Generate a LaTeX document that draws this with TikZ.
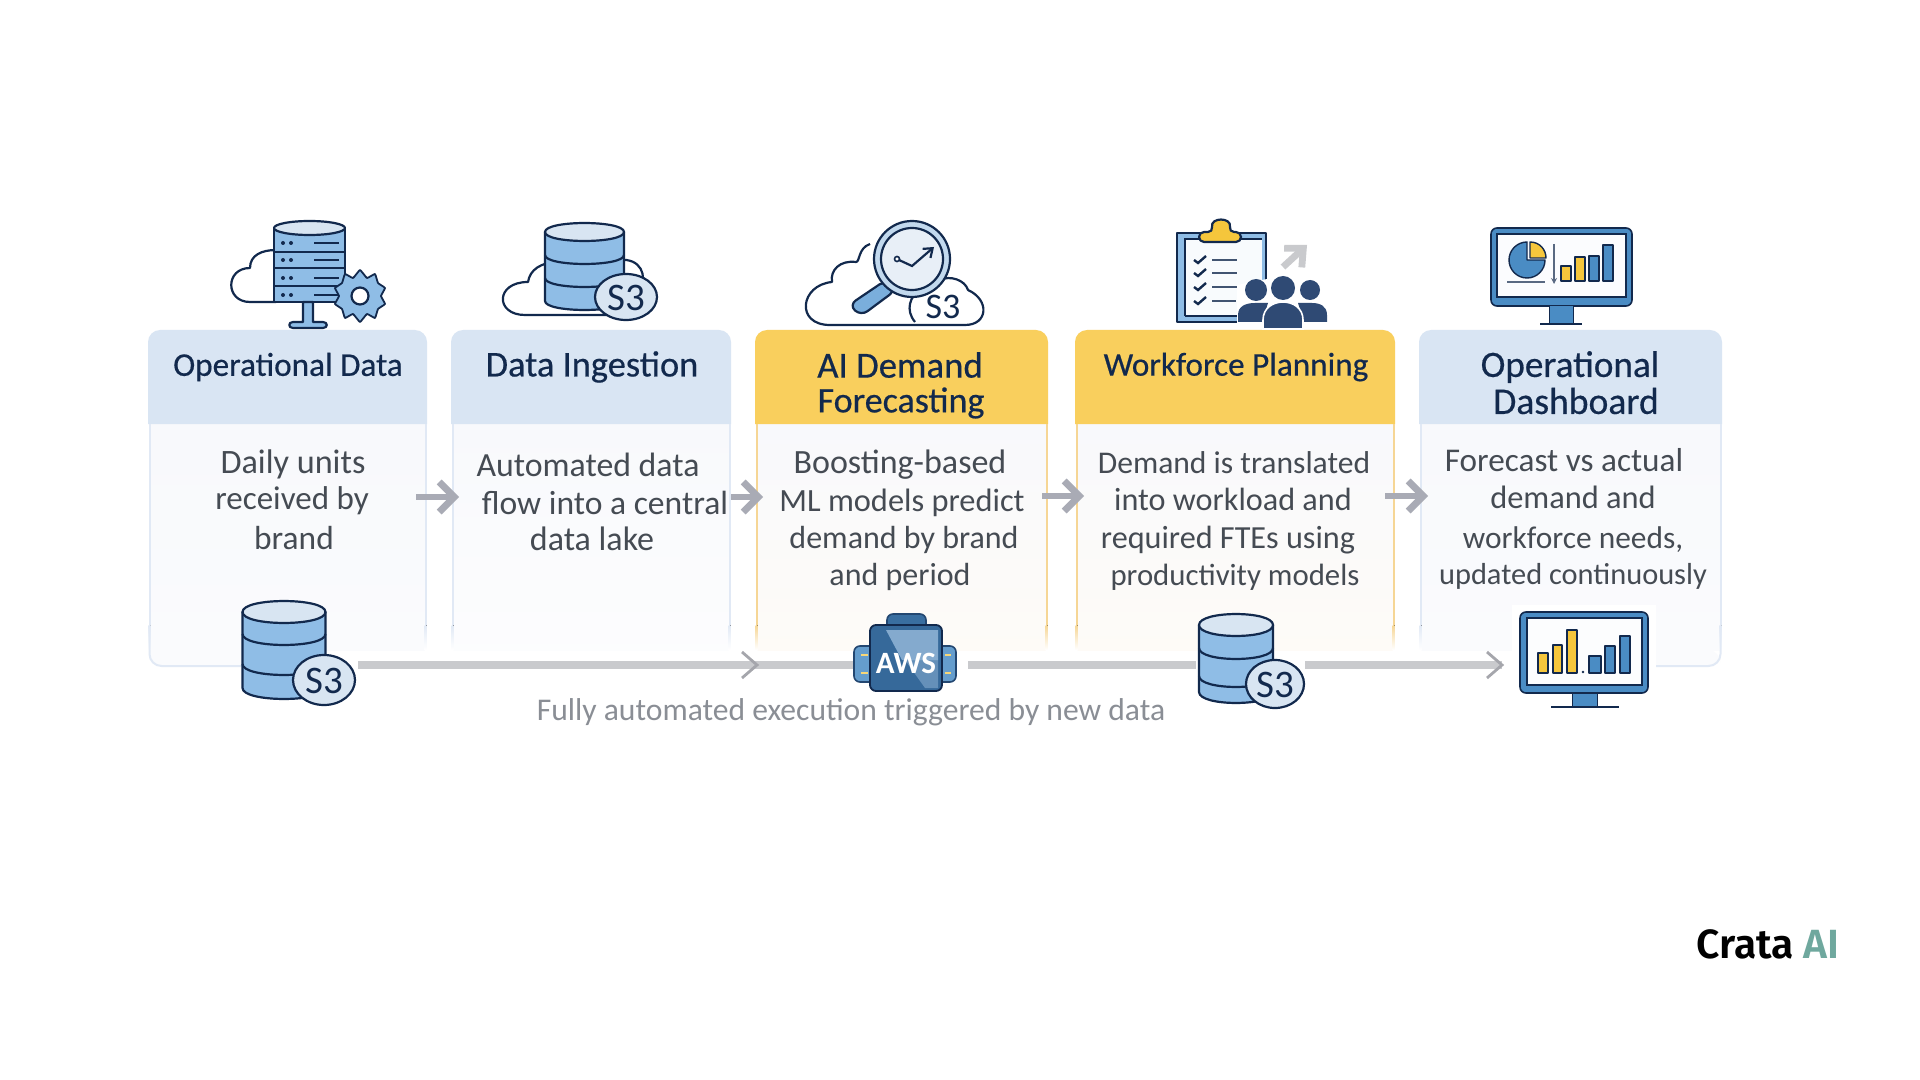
\documentclass[tikz,border=0pt]{standalone}
\usepackage{fontspec}
\usetikzlibrary{arrows.meta,shapes.geometric}
\setmainfont{Carlito}
\newfontfamily\hfont[FakeBold=0.45]{Carlito}
\newfontfamily\crfont{Fira Sans}[UprightFont=* SemiBold]
\definecolor{navy}{HTML}{12294D}
\definecolor{hblue}{HTML}{D9E5F3}
\definecolor{hyel}{HTML}{F9CF5D}
\definecolor{icb}{HTML}{8FBDE6}
\definecolor{icm}{HTML}{4A8CC4}
\definecolor{icl}{HTML}{D8E5F2}
\definecolor{bod}{HTML}{F8F9FC}
\definecolor{bline}{HTML}{E1E9F5}
\definecolor{oline}{HTML}{F6D695}
\definecolor{ora}{HTML}{FDF8F2}
\definecolor{arr}{HTML}{A9ABB5}
\definecolor{lin}{HTML}{C9CACD}
\definecolor{chv}{HTML}{A5A6AC}
\definecolor{txt}{HTML}{454B53}
\definecolor{capc}{HTML}{8A8E95}
\definecolor{yel}{HTML}{F5C63C}
\definecolor{dkp}{HTML}{2F4A74}
\definecolor{crt}{HTML}{6FA89E}
\tikzset{
 ic/.style={draw=navy,line width=1.1pt,line join=round},
 headt/.style={inner sep=0,text=navy,font=\hfont\fontsize{#1}{18}\selectfont},
 bodyt/.style={inner sep=0,text=txt,font=\fontsize{#1}{18}\selectfont},
 flow/.style={draw=arr,line width=3.4pt,-{Straight Barb[length=7.5pt,width=15pt]}},
 base/.style={draw=lin,line width=4pt},
 chev/.style={draw=chv,line width=1.4pt},
 anchorbox/.style={inner sep=0,outer sep=0,minimum height=10pt},
 stxt/.style={inner sep=0,text=navy,font=\fontsize{#1}{18}\selectfont},
}
\newcommand\dbcyl[7]{% cx rx topcy bot ry sep1 sep2
 \draw[ic,fill=icb] (#1-#2,#3) -- (#1-#2,#4) .. controls (#1-#2,#4+1.33*#5) and (#1+#2,#4+1.33*#5) .. (#1+#2,#4) -- (#1+#2,#3) -- cycle;
 \draw[ic] (#1-#2,#6) .. controls (#1-#2,#6+1.33*#5) and (#1+#2,#6+1.33*#5) .. (#1+#2,#6);
 \draw[ic] (#1-#2,#7) .. controls (#1-#2,#7+1.33*#5) and (#1+#2,#7+1.33*#5) .. (#1+#2,#7);
 \draw[ic,fill=icl] (#1-#2,#3) .. controls (#1-#2,#3+1.33*#5) and (#1+#2,#3+1.33*#5) .. (#1+#2,#3) .. controls (#1+#2,#3-1.33*#5) and (#1-#2,#3-1.33*#5) .. (#1-#2,#3) -- cycle;
}
\newcommand\card[7]{% L R bot head body-top body-bottom line
 \fill[top color=#5,bottom color=#6] (#1+2,420) rectangle (#2-2,#3);
 \fill[#4,rounded corners=6pt] (#1,424) -- (#1,330) -- (#2,330) -- (#2,424);
 \fill[#4] (#1,400) rectangle (#2,424);
 \foreach \xx in {#1+.5,#2-2.5} {
   \fill[#7] (\xx,424) rectangle (\xx+2,625);
   \fill[top color=#7,bottom color=white] (\xx,625) rectangle (\xx+2,#3);
 }
}
\begin{document}
\begin{tikzpicture}[x=.5pt,y=-.5pt]
\useasboundingbox (0,0) rectangle (1920,1080);
\fill[white] (0,0) rectangle (1920,1080);
% cards
\card{148}{427}{650}{hblue}{bod}{bod!70!white}{bline}
\card{451}{731}{650}{hblue}{bod}{bod!40!white}{bline}
\card{755}{1048}{650}{hyel}{bod}{ora!60!white}{oline}
\card{1075}{1395}{650}{hyel}{bod}{ora!60!white}{oline}
\card{1419}{1722}{650}{hblue}{bod}{bod!70!white}{bline}
\fill[bod!70!white,rounded corners=6pt] (150,650) -- (150,666) -- (300,666) -- (300,650);
\draw[bline,line width=1pt,rounded corners=6pt] (149.5,625) -- (149.5,666) -- (300,666);
\fill[bod!70!white,rounded corners=6pt] (1560,650) -- (1720,650) -- (1720,666) -- (1560,666);
\draw[bline,line width=1pt,rounded corners=6pt] (1720.5,625) -- (1720.5,666) -- (1640,666);
% headers
\node[headt=16.6] (h1) at (288,367) {Operational Data};
\node[headt=18.2] (h2) at (592,367) {Data Ingestion};
\node[headt=18.4] (h3a) at (900,365) {AI Demand};
\node[headt=18] (h3b) at (901,403) {Forecasting};
\node[headt=16.6] (h4) at (1236,367) {Workforce Planning};
\node[headt=18.6] (h5a) at (1570,367) {Operational};
\node[headt=18.8] (h5b) at (1576,401) {Dashboard};
% body
\node[bodyt=17.1] (b1a) at (293,464) {Daily units};
\node[bodyt=16.5] (b1b) at (292,501) {received by};
\node[bodyt=16.7] (b1c) at (294,538) {brand};
\node[bodyt=16.9] (b2a) at (588,465) {Automated data};
\node[bodyt=16.8] (b2b) at (605,503) {flow into a central};
\node[bodyt=17] (b2c) at (592,539) {data lake};
\node[bodyt=17] (b3a) at (900,465) {Boosting-based};
\node[bodyt=16.2] (b3b) at (902,503) {ML models predict};
\node[bodyt=16] (b3c) at (904,540) {demand by brand};
\node[bodyt=16] (b3d) at (900,577) {and period};
\node[bodyt=15.8] (b4a) at (1234,463) {Demand is translated};
\node[bodyt=16.1] (b4b) at (1233,499) {into workload and};
\node[bodyt=16.1] (b4c) at (1228,540) {required FTEs using};
\node[bodyt=15.4] (b4d) at (1235,577) {productivity models};
\node[bodyt=16.6] (b5a) at (1564,460) {Forecast vs actual};
\node[bodyt=16.2] (b5b) at (1573,497) {demand and};
\node[bodyt=15.7] (b5c) at (1573,540) {workforce needs,};
\node[bodyt=15.2] (b5d) at (1573,576) {updated continuously};
% upper arrows
\coordinate (a1s) at (416,497); \coordinate (a1e) at (459,497);
\coordinate (a2s) at (731,497); \coordinate (a2e) at (763,497);
\coordinate (a3s) at (1042,496); \coordinate (a3e) at (1084,496);
\coordinate (a4s) at (1385,496); \coordinate (a4e) at (1428,496);
\draw[flow] (a1s) -- (a1e);
\draw[flow] (a2s) -- (a2e);
\draw[flow] (a3s) -- (a3e);
\draw[flow] (a4s) -- (a4e);
% baseline
\node[anchorbox,minimum width=58pt] (s3a) at (300,665) {};
\node[anchorbox,minimum width=57.5pt] (aws) at (910.5,665) {};
\node[anchorbox,minimum width=54.5pt] (s3b) at (1250.5,665) {};
\node[anchorbox,minimum width=79pt] (mon) at (1581,665) {};
\coordinate (ch1) at (757,665); \coordinate (ch2) at (1502,665);
\draw[base] (s3a) -- (aws);
\draw[base] (aws) -- (s3b);
\draw[base] (s3b) -- (mon);
\draw[chev] (ch1) ++(-15,-13) -- (ch1) -- ++(-15,13);
\draw[chev] (ch2) ++(-15,-13) -- (ch2) -- ++(-15,13);
\node[inner sep=0,text=capc,font=\fontsize{15.8}{18}\selectfont] (cap) at (851,712) {Fully automated execution triggered by new data};
% icon 1
\draw[ic,fill=white] (276,302) -- (250,302) .. controls (225,302) and (225,268) .. (250,268) .. controls (250,255) and (262,250) .. (276,250);
\draw[ic,fill=icb] (274,228) -- (274,302) -- (345,302) -- (345,228) -- cycle;
\draw[ic,fill=icl] (309.5,228) ellipse [x radius=35.5,y radius=7];
\foreach \yy in {252,268,286} \draw[ic] (274,\yy) -- (345,\yy);
\foreach \yy in {243,260,278,295} {\fill[navy] (283,\yy) circle [radius=2]; \fill[navy] (291,\yy) circle [radius=2]; \draw[navy,line width=1pt] (314,\yy) -- (339,\yy);}
\draw[ic,fill=icb] (303,302) -- (303,322) -- (293,322) .. controls (288,322) and (288,328) .. (293,328) -- (323,328) .. controls (328,328) and (328,322) .. (323,322) -- (313,322) -- (313,302) -- cycle;
\draw[ic,line width=.9pt,fill=icb] plot[smooth cycle,tension=.2] coordinates {(360,270)(367,278)(375,274)(378,283)(385,288)(381,296)(385,304)(378,309)(375,318)(367,314)(360,322)(353,314)(345,318)(342,309)(335,304)(339,296)(335,288)(342,283)(345,274)(353,278)};
\draw[ic,fill=white] (360,296) circle [radius=8.5];
% icon 2
\draw[ic,fill=white] (640,290) .. controls (648,275) and (640,258) .. (620,260) -- (560,262) .. controls (540,262) and (530,270) .. (528,282) .. controls (495,282) and (495,315) .. (525,315) -- (610,315);
\dbcyl{584.5}{39.5}{232}{301}{9}{255}{278}
\draw[ic,fill=icl] (626,297) ellipse [x radius=31,y radius=23];
\node[stxt=19.5] (s2) at (626,298) {S3};
% icon 3
\draw[ic,fill=white] (870,244) .. controls (858,248) and (860,262) .. (856,262) .. controls (840,260) and (830,270) .. (832,282) .. controls (800,285) and (795,325) .. (830,325) -- (965,325) .. controls (988,325) and (990,300) .. (968,290) .. controls (965,280) and (950,275) .. (940,280);
\draw[ic,fill=white,draw=navy] (915,322) .. controls (905,310) and (910,296) .. (920,290);
\draw[ic,fill=icb!70!icm,rounded corners=4pt] (886,280) -- (896,290) -- (861,316) -- (849,305) -- cycle;
\draw[ic,fill=icl!70!icb] (912,259) circle [radius=38];
\draw[ic,fill=icl!60!white] (912,259) circle [radius=31];
\draw[navy,line width=1.1pt,-{Straight Barb[length=4pt,width=6pt]}] (899,260) -- (912,266) -- (934,247);
\draw[navy,line width=.8pt,fill=white] (897,259) circle [radius=2.5];
\node[stxt=18] (s3) at (943,307) {S3};
% icon 4
\draw[ic,line width=.9pt,fill=icb] (1177,233) rectangle (1266,322);
\fill[white!94!icb] (1184,239) rectangle (1262,316);
\draw[navy,line width=.7pt] (1185,316) -- (1185,239) -- (1262,239);
\draw[navy,line width=.7pt] (1185,316) -- (1237,316);
\foreach \yy/\xx in {260/1237,273/1237,287/1237,301/1236} {\draw[navy,line width=1.2pt] (1194,\yy) -- (1198,\yy+3) -- (1206,\yy-4); \draw[navy!80!white,line width=.9pt] (1212,\yy) -- (\xx,\yy);}
\draw[ic,fill=yel,rounded corners=2.5pt] (1199,242) -- (1199,232) -- (1213,232) .. controls (1210,217) and (1232,217) .. (1229,232) -- (1241,232) -- (1241,242) -- cycle;
\fill[white] (1237,323) -- (1237,285) -- (1267,279) -- (1267,234) -- (1335,234) -- (1335,327) -- cycle;
\draw[draw=lin,line width=3.4pt,-{Straight Barb[length=7pt,width=13pt]}] (1283,267) -- (1307,245);
\fill[dkp] (1256,290) circle [radius=11];
\fill[dkp] (1283,288) circle [radius=12];
\fill[dkp] (1310,290) circle [radius=10];
\fill[dkp] (1238,322) -- (1238,315) .. controls (1238,306) and (1246,303) .. (1255,303) -- (1268,303) -- (1262,322) -- cycle;
\fill[dkp] (1327,322) -- (1327,315) .. controls (1327,306) and (1320,303) .. (1312,303) -- (1298,303) -- (1304,322) -- cycle;
\draw[white,line width=.8pt,fill=dkp] (1263,329) -- (1263,320) .. controls (1263,296) and (1303,296) .. (1303,320) -- (1303,329) -- cycle;
% icon 5
\draw[ic,line width=.8pt,fill=icm,rounded corners=3pt] (1491,228) rectangle (1632,306);
\fill[white!90!icl] (1497,234) rectangle (1626,297);
\draw[navy,line width=.6pt] (1497,234) rectangle (1626,297);
\draw[ic,fill=icm,line width=.5pt] (1549,306) rectangle (1573,324);
\draw[navy,line width=1.2pt] (1540,324) -- (1582,324);
\draw[ic,line width=.7pt,fill=icm] (1527,242) -- (1527,260) -- (1545,260) arc [start angle=0,end angle=270,radius=18] -- cycle;
\draw[ic,line width=.7pt,fill=yel] (1530,242) .. controls (1540,242) and (1546,250) .. (1546,258) -- (1530,258) -- cycle;
\draw[navy!70!white,line width=.7pt] (1507,282) -- (1545,282);
\draw[navy!70!white,line width=.6pt,-{Stealth[length=3pt,width=3pt]}] (1554,244) -- (1554,284);
\draw[ic,line width=.7pt,fill=yel] (1561,266) rectangle (1571,281);
\draw[ic,line width=.7pt,fill=yel] (1575,257) rectangle (1585,281);
\draw[ic,line width=.7pt,fill=icm] (1589,256) rectangle (1599,281);
\draw[ic,line width=.7pt,fill=icm] (1603,245) rectangle (1613,281);
% lower S3 a
\dbcyl{284}{41.5}{612}{688}{11}{634}{664}
\draw[ic,fill=icl] (324,680) ellipse [x radius=31,y radius=25];
\node[stxt=19.5] (s4) at (324,681) {S3};
% AWS
\draw[draw=navy!70!icm,line width=.8pt,fill=icm!85!white,rounded corners=3pt] (854,646) rectangle (956,682);
\foreach \yy in {655,673} {\draw[yel!70!white,line width=.7pt] (861,\yy) -- (868,\yy); \draw[yel!70!white,line width=.7pt] (945,\yy) -- (951,\yy);}
\draw[draw=navy!70!icm,line width=.8pt,fill=icm!70!navy,rounded corners=3pt] (887,627) -- (887,614) -- (926,614) -- (926,627);
\draw[draw=navy,line width=.9pt,fill=icm!65!navy,rounded corners=3pt] (870,625) rectangle (942,691);
\fill[icl!60!icm,opacity=.75] (886,630) -- (938,630) -- (938,660) -- (902,660) -- cycle;
\fill[icl!60!icm,opacity=.45] (905,660) -- (938,660) -- (938,688) -- (925,688) -- cycle;
\node[inner sep=0,text=white,font=\fontsize{15.5}{18}\selectfont\bfseries] (awst) at (906,663) {AWS};
% lower S3 b
\dbcyl{1236}{37}{625}{692}{11}{648}{676}
\draw[ic,fill=icl] (1275,684) ellipse [x radius=29,y radius=24];
\node[stxt=19.5] (s5) at (1275,685) {S3};
% lower monitor
\fill[white] (1512,605) rectangle (1656,700);
\draw[ic,line width=.8pt,fill=icm,rounded corners=3pt] (1520,612) rectangle (1648,693);
\fill[white!92!icl] (1527,618) rectangle (1642,685);
\draw[navy,line width=.6pt] (1527,618) rectangle (1642,685);
\draw[ic,line width=.5pt,fill=icm] (1572,693) rectangle (1597,706);
\draw[navy,line width=1.4pt] (1551,707) -- (1619,707);
\draw[ic,line width=.7pt,fill=yel] (1538,653) rectangle (1548,673);
\draw[ic,line width=.7pt,fill=yel] (1553,645) rectangle (1562,673);
\draw[ic,line width=.7pt,fill=yel] (1567,630) rectangle (1577,673);
\fill[navy] (1583,672) circle [radius=1.3];
\draw[ic,line width=.7pt,fill=icm] (1589,656) rectangle (1601,673);
\draw[ic,line width=.7pt,fill=icm] (1605,646) rectangle (1615,673);
\draw[ic,line width=.7pt,fill=icm] (1620,636) rectangle (1630,673);
% logo
\node[inner sep=0,anchor=west,font=\crfont\fontsize{20.4}{22}\selectfont] (logo) at (1696,944) {Crata \textcolor{crt}{AI}};
\end{tikzpicture}
\end{document}
